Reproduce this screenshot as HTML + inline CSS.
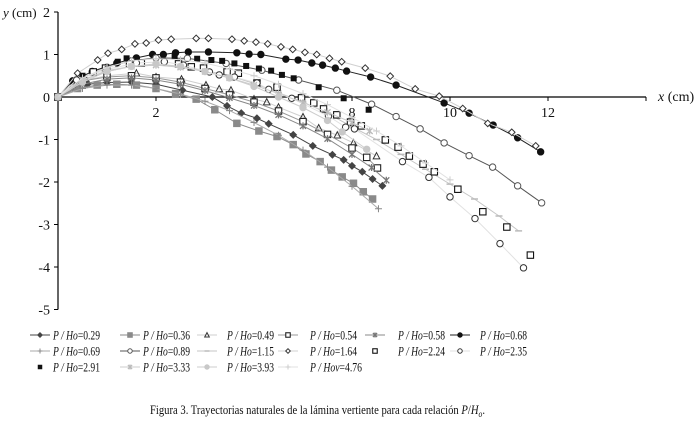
<!DOCTYPE html>
<html><head><meta charset="utf-8">
<style>
body{margin:0;background:#fff;width:697px;height:427px;overflow:hidden;font-family:"Liberation Serif",serif;}
svg{position:absolute;left:0;top:0}
</style></head><body>
<svg id="chart" width="697" height="427" xmlns="http://www.w3.org/2000/svg"></svg>
<script>
const yTicks=[2,1,0,-1,-2,-3,-4,-5];
const xTickLabels=["2","8","10","12"];
const xTickAt=[2,6,8,10];
const x029=[0,0.3,0.6,1,1.5,2,2.54,3.15,3.45,3.74,4.06,4.3,4.8,5.2,5.6,5.83,6.0,6.21,6.42,6.62];
const y029=[0,0.22,0.3,0.34,0.35,0.3,0.16,0,-0.21,-0.38,-0.5,-0.63,-0.89,-1.15,-1.36,-1.48,-1.62,-1.76,-1.93,-2.09];
const x036=[0,0.4,0.8,1.2,1.6,2,2.4,2.82,3.2,3.65,4.1,4.47,4.8,5.06,5.35,5.58,5.8,6.03,6.23,6.42];
const y036=[0,0.2,0.28,0.3,0.28,0.2,0.08,-0.05,-0.3,-0.62,-0.8,-0.93,-1.12,-1.34,-1.52,-1.72,-1.88,-2.03,-2.23,-2.4];
const x049=[0,0.3,0.58,1.0,1.6,2.0,2.52,3.02,3.29,3.53,4.0,4.26,4.5,5.0,5.32,5.7,6.03,6.5];
const y049=[0,0.3,0.4,0.5,0.56,0.47,0.42,0.28,0.19,0.16,-0.05,-0.12,-0.24,-0.47,-0.73,-0.9,-1.08,-1.39];
const x054=[0,0.5,1,1.5,2,2.5,3,3.5,4,4.5,5,5.5,6,6.3,6.52];
const y054=[0,0.38,0.47,0.5,0.45,0.35,0.2,0.05,-0.12,-0.33,-0.58,-0.88,-1.2,-1.42,-1.67];
const x058=[0,0.5,1,1.5,2,2.5,3,3.5,4,4.5,5,5.5,6,6.4,6.7];
const y058=[0,0.3,0.42,0.45,0.4,0.3,0.15,-0.02,-0.2,-0.42,-0.68,-0.98,-1.35,-1.66,-1.96];
const x068=[0,0.3,0.7,1.2,1.6,1.93,2.15,2.4,2.66,3.07,3.65,3.9,4.14,4.65,4.9,5.18,5.4,5.66,5.89,6.38,6.9,7.88,8.39,8.88,9.38,9.85];
const y068=[0,0.38,0.6,0.8,0.92,1.0,1.0,1.04,1.06,1.06,1.04,1.01,1.0,0.89,0.87,0.8,0.75,0.68,0.61,0.47,0.28,-0.14,-0.38,-0.66,-0.96,-1.29];
const x069=[0,0.5,1,1.5,2,2.5,3,3.5,4,4.5,5,5.5,6,6.54];
const y069=[0,0.2,0.28,0.28,0.2,0.07,-0.1,-0.32,-0.6,-0.9,-1.25,-1.65,-2.1,-2.63];
const x089=[0,0.5,1,1.5,2,2.64,3.43,4.16,4.91,5.69,6.4,6.9,7.39,7.88,8.39,8.87,9.38,9.87];
const y089=[0,0.45,0.7,0.85,0.92,0.91,0.79,0.63,0.4,0.16,-0.17,-0.46,-0.75,-1.08,-1.38,-1.65,-2.09,-2.49];
const x115=[0,0.5,1,1.5,2,2.5,3,3.5,4,4.5,5,5.5,6,6.5,7,7.5,8,8.5,9,9.4];
const y115=[0,0.4,0.6,0.72,0.75,0.72,0.62,0.5,0.32,0.1,-0.12,-0.38,-0.7,-1.0,-1.35,-1.7,-2.05,-2.4,-2.8,-3.15];
const x164=[0,0.4,0.81,1.02,1.3,1.57,1.8,2.05,2.31,2.82,3.07,3.55,3.8,4.04,4.28,4.55,4.79,5.04,5.28,5.54,5.79,6.27,6.78,7.29,7.78,8.26,8.77,9.26,9.75];
const y164=[0,0.56,0.87,1.03,1.12,1.25,1.27,1.34,1.36,1.38,1.38,1.36,1.32,1.29,1.25,1.18,1.12,1.05,1.0,0.91,0.83,0.68,0.49,0.19,0.02,-0.27,-0.62,-0.83,-1.15];
const x224=[0,0.72,0.97,1.46,1.7,2.46,2.72,2.97,3.45,3.68,4.06,4.47,4.97,5.22,5.42,5.69,5.97,6.19,6.68,6.94,7.17,7.45,7.68,8.16,8.67,9.16,9.64];
const y224=[0,0.59,0.68,0.78,0.8,0.78,0.71,0.68,0.59,0.56,0.33,0.23,-0.02,-0.14,-0.28,-0.42,-0.59,-0.68,-1.01,-1.18,-1.39,-1.58,-1.76,-2.17,-2.7,-3.06,-3.72];
const x235=[0,0.38,1,1.6,2.17,2.56,3.09,3.29,3.6,4.06,4.3,4.77,5.52,5.87,6.05,7.03,7.57,8.0,8.51,9.02,9.5];
const y235=[0,0.4,0.65,0.8,0.83,0.75,0.59,0.52,0.47,0.33,0.18,-0.03,-0.45,-0.71,-0.75,-1.52,-1.89,-2.35,-2.86,-3.45,-4.02];
const x291=[0,0.5,1.22,1.4,2.38,2.84,3.13,3.35,3.6,3.84,4.1,4.35,4.57,4.81,5.32,5.83,6.34];
const y291=[0,0.5,0.83,0.91,0.95,0.9,0.87,0.85,0.79,0.73,0.67,0.62,0.52,0.44,0.23,-0.03,-0.3];
const x333=[0,0.5,1,1.5,2,2.5,3,3.5,4,4.5,5,5.5,6,6.36];
const y333=[0,0.4,0.62,0.72,0.75,0.7,0.6,0.45,0.28,0.08,-0.13,-0.36,-0.6,-0.8];
const x393=[0,0.5,1,1.5,2,2.5,3,3.5,4,4.5,5,5.5,5.8,6.3];
const y393=[0,0.35,0.6,0.72,0.78,0.72,0.6,0.45,0.25,0.0,-0.25,-0.55,-0.82,-1.23];
const x476=[0,0.5,1,1.5,2,2.5,3,3.5,4,4.5,5,5.5,6,6.5,7,7.5,8];
const y476=[0,0.45,0.7,0.85,0.9,0.88,0.8,0.66,0.5,0.3,0.08,-0.18,-0.48,-0.8,-1.15,-1.55,-1.95];

const series=[
 {label:"0.29",pre:"P / Ho",xs:x029,ys:y029,line:"#444",mk:"diamond",fill:"#444",stroke:"#444"},
 {label:"0.36",pre:"P / Ho",xs:x036,ys:y036,line:"#8a8a8a",mk:"square",fill:"#8a8a8a",stroke:"#8a8a8a"},
 {label:"0.49",pre:"P / Ho",xs:x049,ys:y049,line:"#cfcfcf",mk:"triangle",fill:"none",stroke:"#333"},
 {label:"0.54",pre:"P / Ho",xs:x054,ys:y054,line:"#999",mk:"square",fill:"#fff",stroke:"#222"},
 {label:"0.58",pre:"P / Ho",xs:x058,ys:y058,line:"#888",mk:"star",fill:"none",stroke:"#777"},
 {label:"0.68",pre:"P / Ho",xs:x068,ys:y068,line:"#222",mk:"circle",fill:"#111",stroke:"#111"},
 {label:"0.69",pre:"P / Ho",xs:x069,ys:y069,line:"#aaa",mk:"plus",fill:"none",stroke:"#888"},
 {label:"0.89",pre:"P / Ho",xs:x089,ys:y089,line:"#555",mk:"circle",fill:"#fff",stroke:"#555"},
 {label:"1.15",pre:"P / Ho",xs:x115,ys:y115,line:"#c4c4c4",mk:"dash",fill:"none",stroke:"#bbb"},
 {label:"1.64",pre:"P / Ho",xs:x164,ys:y164,line:"#d0d0d0",mk:"diamond",fill:"#fff",stroke:"#333"},
 {label:"2.24",pre:"P / Ho",xs:x224,ys:y224,line:null,mk:"square",fill:"#fff",stroke:"#111"},
 {label:"2.35",pre:"P / Ho",xs:x235,ys:y235,line:"#e2e2e2",mk:"circle",fill:"#fff",stroke:"#333"},
 {label:"2.91",pre:"P / Ho",xs:x291,ys:y291,line:null,mk:"smallsq",fill:"#111",stroke:"#111"},
 {label:"3.33",pre:"P / Ho",xs:x333,ys:y333,line:"#ccc",mk:"star",fill:"none",stroke:"#bbb"},
 {label:"3.93",pre:"P / Ho",xs:x393,ys:y393,line:"#cdcdcd",mk:"circle",fill:"#c8c8c8",stroke:"#c8c8c8"},
 {label:"4.76",pre:"P / Hov",xs:x476,ys:y476,line:"#e0e0e0",mk:"plus",fill:"none",stroke:"#ccc"}
];

const NS="http://www.w3.org/2000/svg";
const svg=document.getElementById('chart');
const X0=58,XS=49,Y0=97,YS=42.5;
function sx(v){return X0+v*XS;}
function sy(v){return Y0-v*YS;}
function el(t,a,p){const e=document.createElementNS(NS,t);for(const k in a)e.setAttribute(k,a[k]);(p||svg).appendChild(e);return e;}

function marker(g,type,x,y,fill,stroke,s){
  s=s||1;let m;
  if(type==="circle") m=el('circle',{cx:x,cy:y,r:3.2*s,fill:fill,stroke:stroke,'stroke-width':1},g);
  else if(type==="square") m=el('rect',{x:x-3.2*s,y:y-3.2*s,width:6.4*s,height:6.4*s,fill:fill,stroke:stroke,'stroke-width':1.1},g);
  else if(type==="smallsq") m=el('rect',{x:x-2.5*s,y:y-2.5*s,width:5*s,height:5*s,fill:fill,stroke:stroke},g);
  else if(type==="diamond") m=el('polygon',{points:`${x},${y-3.3*s} ${x+3.3*s},${y} ${x},${y+3.3*s} ${x-3.3*s},${y}`,fill:fill,stroke:stroke,'stroke-width':1},g);
  else if(type==="triangle") m=el('polygon',{points:`${x},${y-3.5*s} ${x+3.3*s},${y+2.8*s} ${x-3.3*s},${y+2.8*s}`,fill:fill,stroke:stroke,'stroke-width':1},g);
  else if(type==="plus") m=el('path',{d:`M${x-3.5*s},${y}H${x+3.5*s}M${x},${y-3.5*s}V${y+3.5*s}`,stroke:stroke,'stroke-width':1,fill:'none'},g);
  else if(type==="dash") m=el('path',{d:`M${x-3.5*s},${y}H${x+3.5*s}`,stroke:stroke,'stroke-width':1.5,fill:'none'},g);
  else m=el('path',{d:`M${x-3*s},${y-3*s}L${x+3*s},${y+3*s}M${x+3*s},${y-3*s}L${x-3*s},${y+3*s}M${x},${y-3.5*s}V${y+3.5*s}`,stroke:stroke,'stroke-width':1.3,fill:'none'},g);
  
  
}

// axes
const ax=el('g',{});


const yl=el('line',{x1:X0,y1:sy(2),x2:X0,y2:sy(-5),stroke:'#000','stroke-width':1.2},ax);


const xl=el('line',{x1:X0,y1:Y0,x2:sx(12),y2:Y0,stroke:'#000','stroke-width':1.2},ax);


for(let i=2;i<=12;i+=2){el('line',{x1:sx(i),y1:Y0,x2:sx(i),y2:Y0+4,stroke:'#000'},ax);}
yTicks.forEach(v=>{
  el('line',{x1:X0-4,y1:sy(v),x2:X0,y2:sy(v),stroke:'#000'},ax);
  const t=el('text',{x:X0-8,y:sy(v)+5,'text-anchor':'end','font-size':14,fill:'#111'},ax);
  t.textContent=String(v);
  
  
});
xTickLabels.forEach((lab,i)=>{
  const t=el('text',{x:sx(xTickAt[i]),y:Y0+20,'text-anchor':'middle','font-size':14,fill:'#111'},ax);
  t.textContent=lab;
  
  
});
const yt=el('text',{x:3,y:sy(2)+5,'font-size':13,fill:'#111'},ax);
yt.innerHTML='<tspan font-style="italic">y</tspan> (cm)';


const xt=el('text',{x:658,y:Y0+4,'font-size':14,fill:'#111'},ax);
xt.innerHTML='<tspan font-style="italic">x</tspan> (cm)';



// series
series.forEach(s=>{
  const g=el('g',{});
  
  
  if(s.line){
    const pts=s.xs.map((x,i)=>sx(x)+','+sy(s.ys[i])).join(' ');
    const pl=el('polyline',{points:pts,fill:'none',stroke:s.line,'stroke-width':1},g);
    
    
  }
  s.xs.forEach((x,i)=>marker(g,s.mk,sx(x),sy(s.ys[i]),s.fill,s.stroke));
});

// legend
const colLine=[30,120,197,278,365,450];
const colText=[53,143,227,310,398,480];
const rowY=[335,351,367];
const lg=el('g',{});


series.forEach((s,i)=>{
  const r=Math.floor(i/6),c=i%6,y=rowY[r];
  const e=el('g',{},lg);
  
  
  if(s.line) el('line',{x1:colLine[c],y1:y,x2:colLine[c]+20,y2:y,stroke:s.line,'stroke-width':1},e);
  marker(e,s.mk,colLine[c]+10,y,s.fill,s.stroke,0.7);
  const t=el('text',{x:colText[c],y:y+4.5,'font-size':13,fill:'#111',textLength:s.pre.length>6?52:47,lengthAdjust:'spacingAndGlyphs'},e);
  t.innerHTML='<tspan font-style="italic">'+s.pre+'</tspan>='+s.label;
});

const cap=el('text',{x:150,y:414,'font-size':12.5,fill:'#111',textLength:335,lengthAdjust:'spacingAndGlyphs'});
cap.innerHTML='Figura 3. Trayectorias naturales de la lámina vertiente para cada relación <tspan font-style="italic">P</tspan>/<tspan font-style="italic">H</tspan><tspan font-size="9" dy="3" font-style="italic">o</tspan><tspan dy="-3">.</tspan>';


</script>
</body></html>
